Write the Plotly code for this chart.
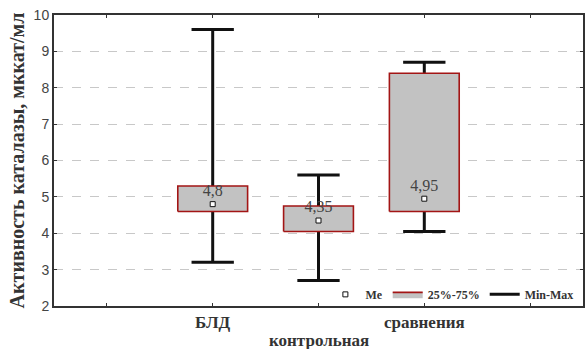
import plotly.graph_objects as go

# Catalase activity by group (мккат/мл)
groups = ["БЛД", "контрольная", "сравнения"]
positions = [2, 3, 4]
minimum = [3.2, 2.7, 4.05]
q25 = [4.6, 4.05, 4.6]
median = [4.8, 4.35, 4.95]
q75 = [5.3, 4.75, 8.4]
maximum = [9.6, 5.6, 8.7]

tick_vals = [1, 2, 3, 4, 5]
# the middle group's label goes on a lower, staggered row
tick_text = ["", "БЛД", "", "сравнения", ""]
lower_row = {3: "контрольная"}

BOX_HALF = 0.33
CAP_HALF = 0.2
serif = "Liberation Serif, Times New Roman, serif"
label_font = dict(family=serif, size=17, color="#333333", weight="bold")

fig = go.Figure()

# whiskers with end caps (drawn first so the boxes cover them)
wx, wy = [], []
for p, lo, hi in zip(positions, minimum, maximum):
    wx += [p, p, None, p - CAP_HALF, p + CAP_HALF, None, p - CAP_HALF, p + CAP_HALF, None]
    wy += [lo, hi, None, lo, lo, None, hi, hi, None]
fig.add_trace(go.Scatter(
    x=wx, y=wy, mode="lines", name="Min-Max",
    line=dict(color="#111111", width=3), legendrank=3,
))

# interquartile boxes
for i, (p, a, b) in enumerate(zip(positions, q25, q75)):
    fig.add_trace(go.Scatter(
        x=[p - BOX_HALF, p + BOX_HALF, p + BOX_HALF, p - BOX_HALF, p - BOX_HALF],
        y=[a, a, b, b, a],
        mode="lines", fill="toself", fillcolor="#c2c2c2",
        line=dict(color="#a31515", width=1.6),
        name="25%-75%", showlegend=(i == 0), legendrank=2,
    ))

# medians with value labels
fig.add_trace(go.Scatter(
    x=positions, y=median, mode="markers+text", name="Me",
    marker=dict(symbol="square", size=5, color="white",
                line=dict(color="#111111", width=1)),
    text=[f"{m:g}".replace(".", ",") for m in median],
    textposition="top center",
    textfont=dict(family=serif, size=16, color="#444444"),
    legendrank=1,
))

for xv, txt in lower_row.items():
    fig.add_annotation(
        x=xv, xref="x", y=0, yref="paper", yshift=-34,
        text=txt, showarrow=False, yanchor="middle", font=label_font,
    )

fig.update_layout(
    width=585, height=349,
    margin=dict(l=54, r=2, t=15, b=43),
    paper_bgcolor="white", plot_bgcolor="white",
    showlegend=True,
    legend=dict(
        orientation="h", x=0.513, y=0.04, xanchor="left", yanchor="middle",
        bgcolor="rgba(0,0,0,0)",
        font=dict(family=serif, size=12, color="#333333", weight="bold"),
        itemwidth=30, tracegroupgap=0,
    ),
)

fig.update_xaxes(
    range=[0.5, 5.5], tickvals=tick_vals, ticktext=tick_text,
    showgrid=False, zeroline=False, automargin=False,
    showline=True, linecolor="#333333", linewidth=2, mirror="ticks",
    ticks="inside", ticklen=3, tickcolor="#333333",
    tickfont=label_font,
)
fig.update_yaxes(
    range=[2, 10], dtick=1, zeroline=False, automargin=False,
    showgrid=True, gridcolor="#c8c8c8", griddash="dash", gridwidth=1,
    showline=True, linecolor="#333333", linewidth=2, mirror="ticks",
    ticks="inside", ticklen=3, tickcolor="#333333",
    tickfont=dict(family="Liberation Sans, Arial, sans-serif", size=14, color="#444444"),
    title=dict(text="Активность каталазы, мккат/мл", standoff=4,
               font=dict(family=serif, size=20, color="#333333", weight="bold")),
)

fig.write_html("out.html")
